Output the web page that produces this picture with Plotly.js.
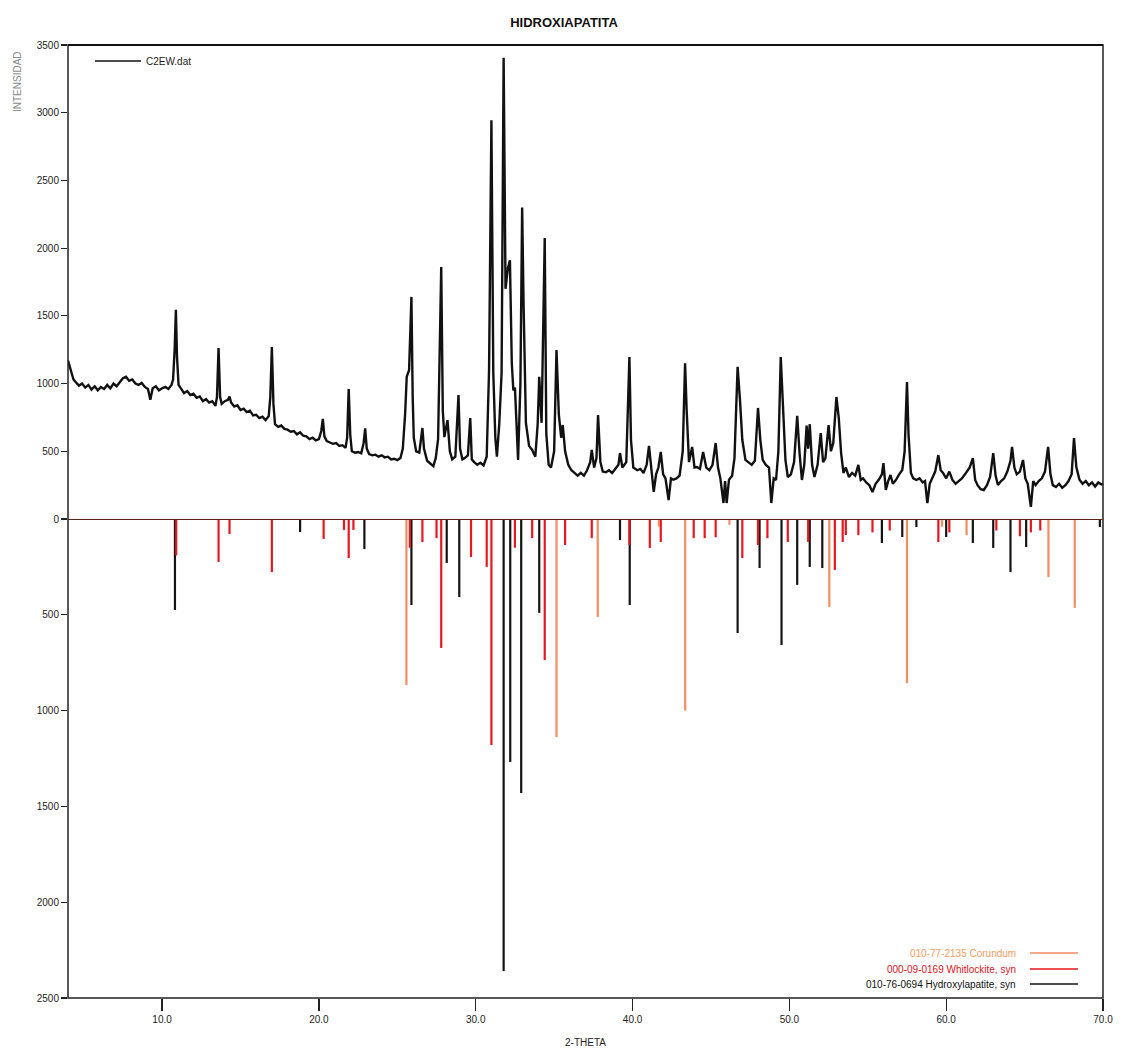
<!DOCTYPE html>
<html>
<head>
<meta charset="utf-8">
<script src="https://cdn.plot.ly/plotly-3.0.1.min.js"></script>
<style>
  html, body { margin: 0; padding: 0; background: #ffffff; }
  #chart { width: 1128px; height: 1054px; }
</style>
</head>
<body>
<div id="chart"></div>
<script>
// ---------- measured pattern C2EW.dat (2-theta, counts) ----------
const measTheta = [
4.00,4.05,4.15,4.25,4.35,4.5,4.7,4.9,5.1,5.3,5.5,5.7,5.9,6.1,6.3,6.5,6.7,6.9,7.1,7.3,7.5,7.7,7.9,8.1,8.3,8.5,8.7,8.9,9.1,9.25,9.4,9.6,9.8,10.0,10.2,10.4,10.6,10.7,10.8,10.88,10.95,11.05,11.2,11.4,11.6,11.8,12.0,12.2,12.4,12.6,12.8,13.0,13.2,13.4,13.5,13.6,13.7,13.8,14.0,14.2,14.3,14.4,14.6,14.8,15.0,15.2,15.4,15.6,15.8,16.0,16.2,16.4,16.6,16.8,16.9,17.0,17.1,17.2,17.4,17.6,17.8,18.0,18.2,18.4,18.6,18.8,19.0,19.2,19.4,19.6,19.8,20.0,20.15,20.25,20.35,20.5,20.7,20.9,21.1,21.3,21.5,21.7,21.8,21.9,22.0,22.1,22.3,22.5,22.7,22.85,22.95,23.05,23.2,23.4,23.6,23.8,24.0,24.2,24.4,24.6,24.8,25.0,25.2,25.35,25.5,25.6,25.75,25.9,25.98,26.05,26.2,26.4,26.6,26.7,26.9,27.1,27.3,27.45,27.6,27.8,27.9,28.0,28.2,28.35,28.5,28.7,28.9,29.0,29.15,29.3,29.5,29.65,29.75,29.9,30.1,30.3,30.5,30.7,30.85,31.0,31.12,31.25,31.35,31.5,31.65,31.78,31.9,32.05,32.18,32.3,32.4,32.5,32.6,32.7,32.85,32.96,33.05,33.2,33.4,33.6,33.8,33.95,34.05,34.2,34.4,34.5,34.65,34.8,35.0,35.15,35.3,35.45,35.55,35.7,35.9,36.1,36.3,36.5,36.7,36.9,37.1,37.3,37.4,37.55,37.7,37.8,37.95,38.1,38.3,38.5,38.7,38.9,39.1,39.2,39.35,39.6,39.8,39.9,40.05,40.3,40.5,40.7,40.9,41.05,41.2,41.35,41.5,41.65,41.8,41.95,42.1,42.3,42.45,42.6,42.8,43.0,43.2,43.35,43.45,43.6,43.8,43.95,44.1,44.3,44.5,44.7,44.9,45.1,45.3,45.45,45.6,45.8,45.9,46.0,46.15,46.35,46.5,46.7,46.85,47.0,47.2,47.4,47.6,47.8,48.0,48.15,48.3,48.5,48.7,48.85,49.0,49.15,49.3,49.45,49.6,49.75,49.9,50.1,50.3,50.5,50.65,50.8,50.95,51.1,51.2,51.3,51.45,51.6,51.8,52.0,52.15,52.3,52.5,52.65,52.8,53.0,53.15,53.3,53.45,53.6,53.8,54.0,54.2,54.4,54.55,54.7,54.9,55.1,55.3,55.5,55.7,55.9,56.0,56.15,56.3,56.45,56.6,56.8,57.0,57.2,57.35,57.5,57.6,57.75,57.9,58.1,58.3,58.5,58.65,58.8,58.95,59.1,59.3,59.5,59.65,59.8,60.0,60.2,60.4,60.6,60.8,61.0,61.2,61.5,61.7,61.85,62.0,62.2,62.4,62.6,62.8,63.0,63.15,63.3,63.5,63.7,63.9,64.1,64.2,64.35,64.5,64.7,64.9,65.05,65.2,65.4,65.55,65.7,65.9,66.1,66.3,66.5,66.65,66.8,67.0,67.2,67.4,67.6,67.8,68.0,68.15,68.3,68.5,68.7,68.9,69.1,69.3,69.5,69.7,69.9,70.0
];
const measCounts = [
1170,1150,1100,1060,1030,1010,985,1000,970,990,955,980,950,975,960,990,965,1000,980,1010,1040,1050,1020,1030,1000,990,1005,975,960,880,965,980,950,965,975,960,990,1030,1250,1545,1200,990,960,930,945,915,925,895,905,870,885,860,870,835,900,1263,900,850,870,880,905,860,830,840,805,815,790,800,765,770,745,755,730,760,900,1270,850,700,680,690,665,660,645,650,625,640,615,610,590,600,580,590,650,740,610,575,565,555,560,540,545,525,600,960,620,500,490,495,485,560,670,520,480,470,475,460,470,455,460,440,445,435,450,520,780,1050,1100,1640,900,600,500,490,672,520,430,410,390,450,590,1860,800,605,730,500,440,460,915,520,440,450,470,745,440,420,400,415,395,460,1100,2945,1080,600,460,700,1080,3405,1700,1850,1910,1150,950,970,650,436,1000,2300,1595,710,540,510,460,700,1050,710,2075,630,400,380,500,1248,770,600,694,500,400,360,340,320,340,320,360,420,510,380,450,768,420,350,345,360,340,370,400,487,380,420,1196,583,380,360,370,340,400,540,350,200,330,380,495,330,300,140,300,290,300,320,500,1150,805,420,532,380,384,370,495,380,360,400,561,380,300,118,280,118,290,320,450,1123,879,583,436,420,400,430,820,583,436,400,380,118,300,288,500,1196,783,436,310,330,420,761,487,288,400,690,520,700,400,310,400,635,420,450,694,500,560,901,746,487,340,380,310,340,320,399,288,300,270,250,199,260,290,330,413,214,280,325,260,290,330,362,500,1012,620,340,300,288,300,270,280,118,260,300,350,472,360,340,300,350,288,260,280,300,330,380,450,288,250,220,214,250,310,487,320,251,280,300,350,430,532,380,330,350,436,300,260,89,280,250,280,300,350,532,330,250,236,260,230,250,280,330,598,384,290,260,280,250,270,240,270,255,260
];

// ---------- reference patterns (2-theta, intensity) ----------
const hapTheta  = [10.82,18.8,22.9,25.9,28.15,28.95,31.78,32.2,32.9,34.05,39.2,39.82,46.7,48.1,49.5,50.5,51.3,52.1,55.9,57.2,58.1,60.0,61.7,63.0,64.1,65.1,69.8];
const hapInt    = [475,68,157,449,230,407,2359,1268,1430,490,110,449,595,256,658,344,250,256,125,94,42,94,125,151,277,146,42];

const whitTheta = [10.9,13.6,14.3,17.0,20.3,21.6,21.9,22.2,25.8,26.6,27.5,27.8,29.7,30.7,31.0,32.5,33.6,34.4,35.7,37.4,39.8,41.1,41.8,43.9,44.6,45.3,47.0,48.0,48.6,49.9,51.2,52.9,53.4,53.6,54.4,55.3,56.4,59.5,60.2,63.2,64.7,65.4,66.0];
const whitInt   = [190,224,78,277,104,57,204,57,150,120,100,673,198,250,1180,150,100,736,136,100,136,151,120,100,100,95,204,136,100,120,120,266,120,84,84,70,60,120,70,60,90,70,60];

const corTheta  = [25.58,35.15,37.78,41.68,43.36,46.18,52.55,57.5,59.74,61.3,66.52,68.2];
const corInt    = [866,1138,511,40,1000,30,459,856,40,84,303,464];

// ---------- labels ----------
const chartTitle = 'HIDROXIAPATITA';
const xTitle = '2-THETA';
const yTitle = 'INTENSIDAD';
const measName = 'C2EW.dat';
const corName  = '010-77-2135 Corundum';
const whitName = '000-09-0169 Whitlockite, syn';
const hapName  = '010-76-0694 Hydroxylapatite, syn';
const topTicks = [0,500,1000,1500,2000,2500,3000,3500];
const bottomTicks = [500,1000,1500,2000,2500];
const xTicks = [10,20,30,40,50,60,70];

const colMeas = '#111111';
const colHap  = '#141414';
const colWhit = '#e8161e';
const colCor  = '#f58c60';

function sticks(theta, inten) {
  const xs = [], ys = [];
  for (let i = 0; i < theta.length; i++) {
    xs.push(theta[i], theta[i], null);
    ys.push(0, -inten[i], null);
  }
  return {x: xs, y: ys};
}

const sH = sticks(hapTheta, hapInt);
const sW = sticks(whitTheta, whitInt);
const sC = sticks(corTheta, corInt);

const traces = [
  {x: measTheta, y: measCounts, type: 'scatter', mode: 'lines', name: measName,
   xaxis: 'x', yaxis: 'y', line: {color: colMeas, width: 2.4}, showlegend: false},
  {x: sH.x, y: sH.y, type: 'scatter', mode: 'lines', name: hapName,
   xaxis: 'x', yaxis: 'y2', line: {color: colHap, width: 2.2}, showlegend: false},
  {x: sW.x, y: sW.y, type: 'scatter', mode: 'lines', name: whitName,
   xaxis: 'x', yaxis: 'y2', line: {color: colWhit, width: 2.2}, showlegend: false},
  {x: sC.x, y: sC.y, type: 'scatter', mode: 'lines', name: corName,
   xaxis: 'x', yaxis: 'y2', line: {color: colCor, width: 2.2}, showlegend: false}
];

const split = 479 / 953;
const tickFont = {family: 'Liberation Sans, Arial, sans-serif', size: 10, color: '#222'};

const layout = {
  width: 1128, height: 1054,
  margin: {l: 68, r: 25, t: 45, b: 56},
  paper_bgcolor: '#ffffff', plot_bgcolor: '#ffffff',
  title: {text: '<b>' + chartTitle + '</b>', x: 0.5, xanchor: 'center', y: 0.983, yref: 'container',
          font: {family: 'Liberation Sans, Arial, sans-serif', size: 13, color: '#111'}},
  showlegend: false,
  xaxis: {
    range: [4, 70], anchor: 'y2', tickvals: xTicks, tickformat: '.1f',
    ticks: 'outside', ticklen: 12, tickwidth: 1.2, tickcolor: '#222',
    showgrid: false, zeroline: false, showline: false, tickfont: tickFont,
    title: {text: xTitle, standoff: 14, font: {family: 'Liberation Sans, Arial, sans-serif', size: 10, color: '#222'}}
  },
  yaxis: {
    domain: [split, 1], range: [0, 3500], tickvals: topTicks,
    ticks: 'outside', ticklen: 6, tickwidth: 1.2, tickcolor: '#222',
    showgrid: false, zeroline: false, showline: false, tickfont: tickFont
  },
  yaxis2: {
    domain: [0, split], range: [-2500, 0],
    tickvals: bottomTicks.map(v => -v), ticktext: bottomTicks.map(v => String(v)),
    ticks: 'outside', ticklen: 6, tickwidth: 1.2, tickcolor: '#222',
    showgrid: false, zeroline: false, showline: false, tickfont: tickFont
  },
  shapes: [
    {type: 'rect', xref: 'paper', yref: 'paper', x0: 0, x1: 1, y0: 0, y1: 1,
     line: {color: '#222', width: 1.5}},
    {type: 'line', xref: 'paper', yref: 'paper', x0: 0, x1: 1, y0: 1, y1: 1,
     line: {color: '#111', width: 2}},
    {type: 'line', xref: 'paper', yref: 'y2', x0: 0, x1: 1, y0: 0, y1: 0,
     line: {color: '#5e2418', width: 2}},
    // legend samples
    {type: 'line', xref: 'paper', yref: 'paper', x0: 27/1035, x1: 73/1035, y0: (998-61)/953, y1: (998-61)/953,
     line: {color: colMeas, width: 1.5}},
    {type: 'line', xref: 'paper', yref: 'paper', x0: 962/1035, x1: 1010/1035, y0: (998-953)/953, y1: (998-953)/953,
     line: {color: colCor, width: 1.5}},
    {type: 'line', xref: 'paper', yref: 'paper', x0: 962/1035, x1: 1010/1035, y0: (998-969)/953, y1: (998-969)/953,
     line: {color: colWhit, width: 1.5}},
    {type: 'line', xref: 'paper', yref: 'paper', x0: 962/1035, x1: 1010/1035, y0: (998-984)/953, y1: (998-984)/953,
     line: {color: colHap, width: 1.5}}
  ],
  annotations: [
    {text: yTitle, xref: 'paper', yref: 'paper', x: -51/1035, y: (998-82)/953, textangle: -90,
     showarrow: false, xanchor: 'center', yanchor: 'middle',
     font: {family: 'Liberation Sans, Arial, sans-serif', size: 10, color: '#8a8a8a'}},
    {text: measName, xref: 'paper', yref: 'paper', x: 76/1035, y: (998-61)/953,
     showarrow: false, xanchor: 'left', yanchor: 'middle',
     font: {family: 'Liberation Sans, Arial, sans-serif', size: 10, color: '#222'}},
    {text: corName, xref: 'paper', yref: 'paper', x: 950/1035, y: (998-953)/953,
     showarrow: false, xanchor: 'right', yanchor: 'middle',
     font: {family: 'Liberation Sans, Arial, sans-serif', size: 10, color: '#f59a5e'}},
    {text: whitName, xref: 'paper', yref: 'paper', x: 950/1035, y: (998-969)/953,
     showarrow: false, xanchor: 'right', yanchor: 'middle',
     font: {family: 'Liberation Sans, Arial, sans-serif', size: 10, color: '#e0141c'}},
    {text: hapName, xref: 'paper', yref: 'paper', x: 950/1035, y: (998-984)/953,
     showarrow: false, xanchor: 'right', yanchor: 'middle',
     font: {family: 'Liberation Sans, Arial, sans-serif', size: 10, color: '#111'}}
  ]
};

Plotly.newPlot('chart', traces, layout, {staticPlot: true, displayModeBar: false});
</script>
</body>
</html>
